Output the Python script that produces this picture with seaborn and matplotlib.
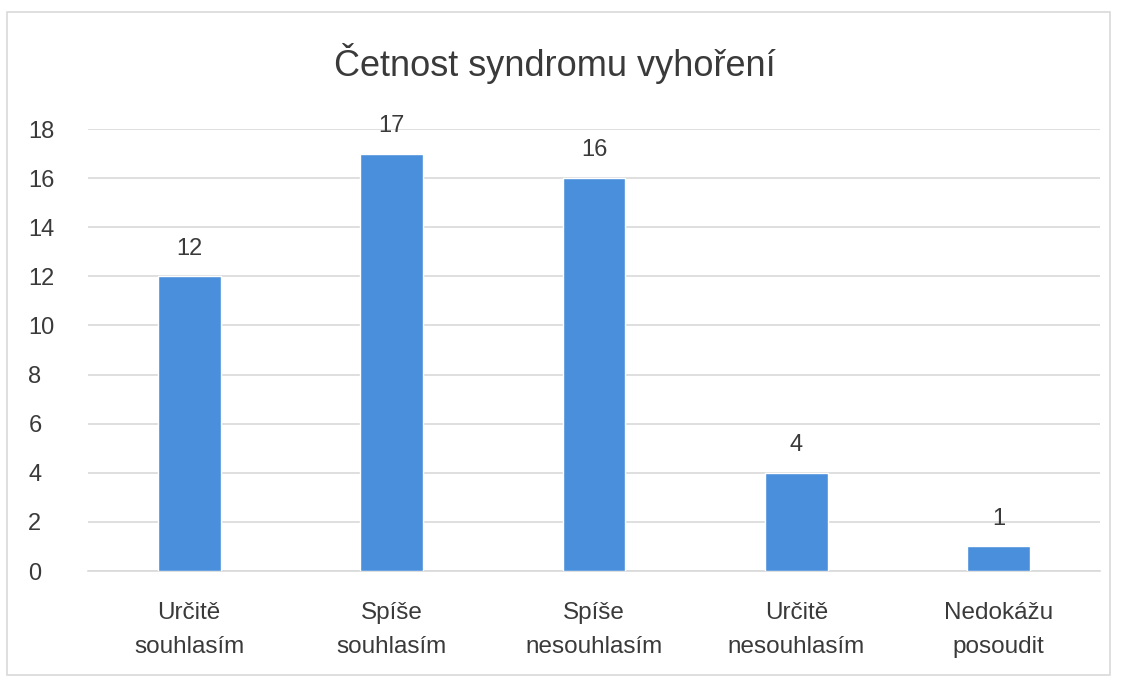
import matplotlib
matplotlib.use("Agg")
import matplotlib.pyplot as plt
import seaborn as sns
import pandas as pd
from matplotlib.patches import Rectangle

categories = ["Určitě\nsouhlasím", "Spíše\nsouhlasím", "Spíše\nnesouhlasím", "Určitě\nnesouhlasím", "Nedokážu\nposoudit"]
values = [12, 17, 16, 4, 1]
yticks = [0, 2, 4, 6, 8, 10, 12, 14, 16, 18]
title = "Četnost syndromu vyhoření"

sns.set_theme(style="white")
plt.rcParams['font.family'] = ['Liberation Sans', 'DejaVu Sans']

df = pd.DataFrame({"cat": categories, "val": values})

fig = plt.figure(figsize=(11.23, 6.81), dpi=100)
ax = fig.add_axes([88/1123, 1-571/681, (1100-88)/1123, (571-129)/681])

sns.barplot(data=df, x="cat", y="val", color="#4A8FDB", saturation=1, width=0.31, ax=ax, zorder=3)

txt = "#3A3A3A"
ax.set_ylim(0, 18)
ax.set_xlim(-0.5, len(categories)-0.5)
ax.set_yticks(yticks)
ax.yaxis.grid(True, color="#D9D9D9", linewidth=1.2, zorder=0)
ax.set_axisbelow(True)
for s in ["top", "right", "left"]:
    ax.spines[s].set_visible(False)
ax.spines["bottom"].set_color("#D9D9D9")
ax.spines["bottom"].set_linewidth(1.2)
ax.set_xlabel("")
ax.set_ylabel("")
ax.tick_params(axis="y", colors=txt, labelsize=17, length=0, pad=43)
ax.tick_params(axis="x", colors=txt, labelsize=17.5, length=0, pad=22)

for i, v in enumerate(values):
    ax.annotate(str(v), (i, v), xytext=(0, 20), textcoords="offset points",
                ha="center", va="center", fontsize=17, color=txt, annotation_clip=False)

fig.text(555/1123, 1-63/681, title, ha="center", va="center", fontsize=26, color=txt)

fig.patches.append(Rectangle((7/1123, 6/681), 1103/1123, 663/681, transform=fig.transFigure,
                             fill=False, edgecolor="#D9D9D9", linewidth=1.2))

fig.canvas.draw()
for lbl in ax.get_yticklabels():
    lbl.set_horizontalalignment("left")
for lbl in ax.get_xticklabels():
    lbl.set_linespacing(1.75)

fig.savefig("out.png", dpi=100, facecolor="white")
